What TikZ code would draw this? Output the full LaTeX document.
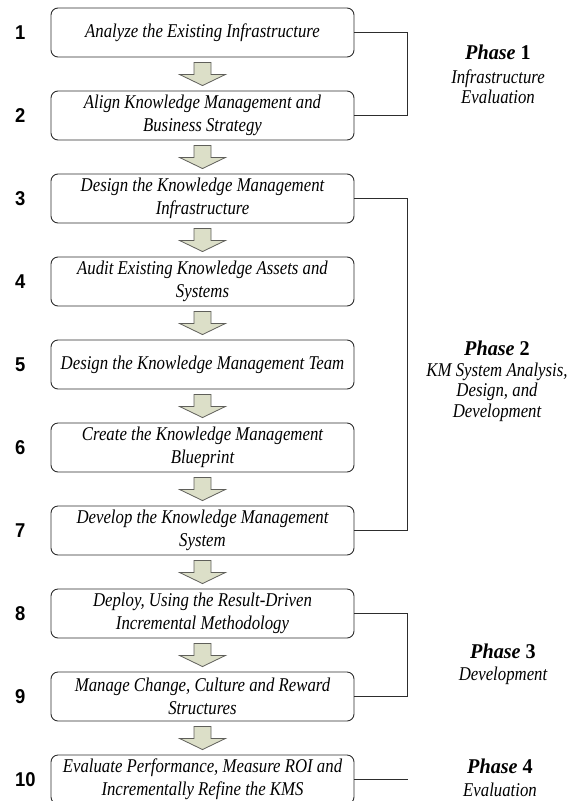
\documentclass[tikz,border=0pt]{standalone}
\usepackage{fontspec}
\setmainfont{Liberation Serif}[FakeStretch=0.86]
\newfontfamily\phasefont{Liberation Serif}[FakeStretch=0.96]
\newfontfamily\numfont{Liberation Sans}[FakeStretch=0.92]
\usetikzlibrary{calc}

\definecolor{arrowfill}{RGB}{220,223,200}
\definecolor{edgegray}{RGB}{45,45,45}
\definecolor{arrowedge}{RGB}{95,95,90}

\tikzset{
  stepbox/.style={draw=edgegray, line width=0.9pt, rounded corners=7pt,
    minimum width=303pt, minimum height=49pt, align=center, inner sep=0pt,
    font=\fontsize{19.5}{23}\selectfont\itshape},
  stepnum/.style={anchor=west, inner sep=0pt,
    font=\numfont\fontsize{20}{20}\selectfont\bfseries},
  flowarrow/.style={draw=arrowedge, fill=arrowfill, line width=0.8pt},
  bracket/.style={draw=edgegray, line width=0.9pt},
  phaselabel/.style={anchor=north, inner sep=0pt, align=center,
    font=\fontsize{19.5}{20.5}\selectfont\itshape}
}
\newcommand{\phasehead}[1]{{\phasefont\fontsize{21}{21}\selectfont\bfseries\itshape Phase \upshape #1}}

\begin{document}
\begin{tikzpicture}[x=1pt, y=-1pt]
  \useasboundingbox (0,0) rectangle (576,801);
  \clip (0,0) rectangle (576,801);

  % process steps
  \node[stepbox] (b1)  at (202.5, 32.5)  {Analyze the Existing Infrastructure};
  \node[stepbox] (b2)  at (202.5, 115.5) {Align Knowledge Management and\\Business Strategy};
  \node[stepbox] (b3)  at (202.5, 198.5) {Design the Knowledge Management\\Infrastructure};
  \node[stepbox] (b4)  at (202.5, 281.5) {Audit Existing Knowledge Assets and\\Systems};
  \node[stepbox] (b5)  at (202.5, 364.5) {Design the Knowledge Management Team};
  \node[stepbox] (b6)  at (202.5, 447.5) {Create the Knowledge Management\\Blueprint};
  \node[stepbox] (b7)  at (202.5, 530.5) {Develop the Knowledge Management\\System};
  \node[stepbox] (b8)  at (202.5, 613.5) {Deploy, Using the Result-Driven\\Incremental Methodology};
  \node[stepbox] (b9)  at (202.5, 696.5) {Manage Change, Culture and Reward\\Structures};
  \node[stepbox] (b10) at (202.5, 779.5) {Evaluate Performance, Measure ROI and\\Incrementally Refine the KMS};

  % step numbers, in a column left of the boxes
  \coordinate (numcol) at (15,0);
  \foreach \i in {1,...,10}
    \node[stepnum] (n\i) at (numcol |- b\i.center) {\i};

  % block arrows between consecutive steps
  \foreach \i/\j in {1/2,2/3,3/4,4/5,5/6,6/7,7/8,8/9,9/10}
    \draw[flowarrow]
      ($(b\i.south)+(-8.5,5)$) -- ++(0,12) -- ++(-14.5,0)
      -- ($(b\j.north)+(0,-5)$)
      -- ($(b\i.south)+(23,17)$) -- ++(-14.5,0) -- ++(0,-12) -- cycle;

  % phase brackets
  \draw[bracket] (b1.east) -- ++(53,0) |- (b2.east);
  \draw[bracket] (b3.east) -- ++(53,0) |- (b7.east);
  \draw[bracket] (b8.east) -- ++(53,0) |- (b9.east);
  \coordinate (p4end) at ($(b10.east)+(54,0)$);
  \draw[bracket] (b10.east) -- (p4end);

  % phase labels
  \node[phaselabel] (ph1) at (498, 45)  {\phasehead{1}\\[3pt]Infrastructure\\Evaluation};
  \node[phaselabel] (ph2) at (497, 341) {\phasehead{2}\\KM System Analysis,\\Design, and\\Development};
  \node[phaselabel] (ph3) at (503, 644) {\phasehead{3}\\[1pt]Development};
  \node[phaselabel] (ph4) at (500, 759) {\phasehead{4}\\[2pt]Evaluation};
\end{tikzpicture}
\end{document}
